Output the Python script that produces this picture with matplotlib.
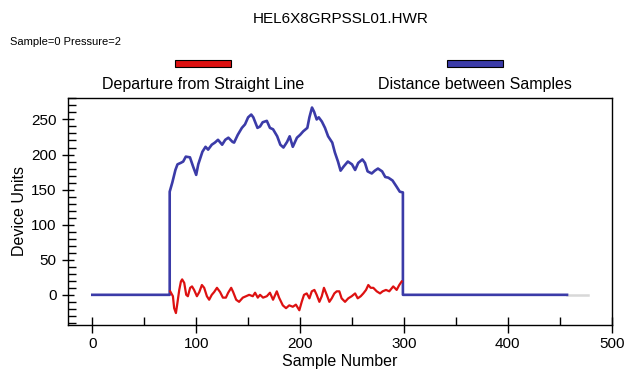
import matplotlib
matplotlib.use('Agg')
import matplotlib.pyplot as plt
from matplotlib.patches import Rectangle
from matplotlib.ticker import MultipleLocator

plt.rcParams['font.family'] = ['Liberation Sans', 'DejaVu Sans']

# --- data ---
title = "HEL6X8GRPSSL01.HWR"
info_text = "Sample=0 Pressure=2"
red_label = "Departure from Straight Line"
blue_label = "Distance between Samples"

# distance between samples (blue)
dist_x = [0, 74.5, 74.5, 77, 80, 82, 85, 87.5, 90, 94, 97, 100, 102, 106, 109, 111.5,
          115, 118, 121, 125, 128, 131, 135, 136.5, 140, 144, 147, 150, 153, 155, 159,
          161.5, 164, 168, 171, 174, 178, 181, 184, 187.5, 190, 193, 197, 200, 203, 207,
          209, 211.5, 213.5, 216, 218, 221, 224, 227, 231, 233.5, 236.5, 239, 242, 246,
          250, 253, 256, 260, 262.5, 265, 269, 272, 275, 279, 282, 285, 289, 293, 296,
          299, 299, 457]
dist_y = [0, 0, 147, 160, 178, 186, 188, 190, 197, 196, 183, 171, 186, 204, 211, 207,
          214, 217, 221, 214, 221, 224, 218, 217, 228, 238, 243, 253, 257, 253, 238,
          240, 246, 248, 238, 236, 226, 214, 210, 218, 226, 211, 224, 228, 233, 238,
          253, 267, 261, 250, 253, 247, 238, 226, 217, 203, 190, 177, 183, 190,
          186, 178, 188, 193, 188, 176, 173, 177, 180, 176, 168, 167, 163, 154, 147,
          146, 0, 0]

# departure from straight line (red)
dep_x = [75, 77.6, 78.8, 80.5, 81.7, 83.7, 85.3, 86.5, 88.5, 90.4, 92, 94.2, 96, 98,
         100.7, 103, 105.5, 107.7, 110.3, 112.5, 115, 117.3, 120, 123, 125.7, 128.6,
         130.8, 133.7, 135.6, 138.5, 141.3, 144.9, 148, 151, 154.5, 156.7, 159.3, 161.5,
         164.4, 168, 171, 174, 177.6, 179.8, 183.4, 186.5, 189.6, 193, 196, 199.3, 201.6,
         203.8, 206.4, 209, 211.3, 213.8, 216, 218.6, 220.9, 223, 225.7, 228.2, 230.5,
         233, 235.3, 237.8, 240, 243.3, 246.4, 249.7, 253, 255.5, 258.4, 260.9, 263.5,
         265.7, 268, 270.5, 273.8, 277, 279.5, 282.7, 285.9, 289.7, 293, 295.5, 297.8]
dep_y = [5, -2, -19, -26, -14, 7, 19, 22, 17, 0, -2, 10, 12, 7,
         -2, 4, 14, 10, -2, -7, 0, 4, 10, 4, -4, -4,
         3, 10, 4, -7, -10, -4, -2, 0, -2, 3, -4, 0,
         -4, -2, 3, -7, 5, -4, -15, -19, -15, -17, -14, -22, -10,
         0, 2, -5, 5, 7, 0, -10, -2, 10, 0, -10, -5,
         2, 5, 5, -5, -10, -5, -2, 2, -5, -2, 2, 7,
         14, 10, 10, 5, 2, 5, 7, 5, 12, 7, 14, 19]

# faint grey tail of the baseline
tail_x = [457, 477]
tail_y = [0, 0]

red = "#dd1111"
blue = "#3b3ba8"

fig = plt.figure(figsize=(6.25, 3.79), dpi=100)
ax = fig.add_axes([0.1083, 0.1425, 0.8704, 0.5997])

ax.plot(tail_x, tail_y, color="#d8d8d8", lw=1.8, zorder=1)
ax.plot(dist_x, dist_y, color=blue, lw=1.9, zorder=2)
ax.plot(dep_x, dep_y, color=red, lw=1.6, zorder=3)

ax.set_xlim(-23.7, 500)
ax.set_ylim(-43, 281)
ax.xaxis.set_major_locator(MultipleLocator(100))
ax.xaxis.set_minor_locator(MultipleLocator(50))
ax.yaxis.set_major_locator(MultipleLocator(50))
ax.yaxis.set_minor_locator(MultipleLocator(10))
ax.tick_params(which='major', direction='inout', length=11, width=1, labelsize=11, colors='black')
ax.tick_params(axis='y', which='major', length=9)
ax.tick_params(which='minor', direction='in', length=6, width=1)
for s in ax.spines.values():
    s.set_linewidth(1)

ax.set_xlabel("Sample Number", fontsize=11.5, labelpad=2)
ax.set_ylabel("Device Units", fontsize=11.5, labelpad=3)

# header texts and the custom legend
fig.text(0.545, 0.950, title, ha='center', va='center', fontsize=11)
fig.text(0.016, 0.888, info_text, ha='left', va='center', fontsize=8)
fig.patches.append(Rectangle((175 / 625, 1 - 67 / 379), 56 / 625, 7 / 379,
                             transform=fig.transFigure, facecolor=red, edgecolor='black', lw=0.8))
fig.patches.append(Rectangle((447 / 625, 1 - 67 / 379), 56 / 625, 7 / 379,
                             transform=fig.transFigure, facecolor=blue, edgecolor='black', lw=0.8))
fig.text(203 / 625, 1 - 84 / 379, red_label, ha='center', va='center', fontsize=11.5)
fig.text(475 / 625, 1 - 84 / 379, blue_label, ha='center', va='center', fontsize=11.5)

fig.savefig("out.png", dpi=100)
